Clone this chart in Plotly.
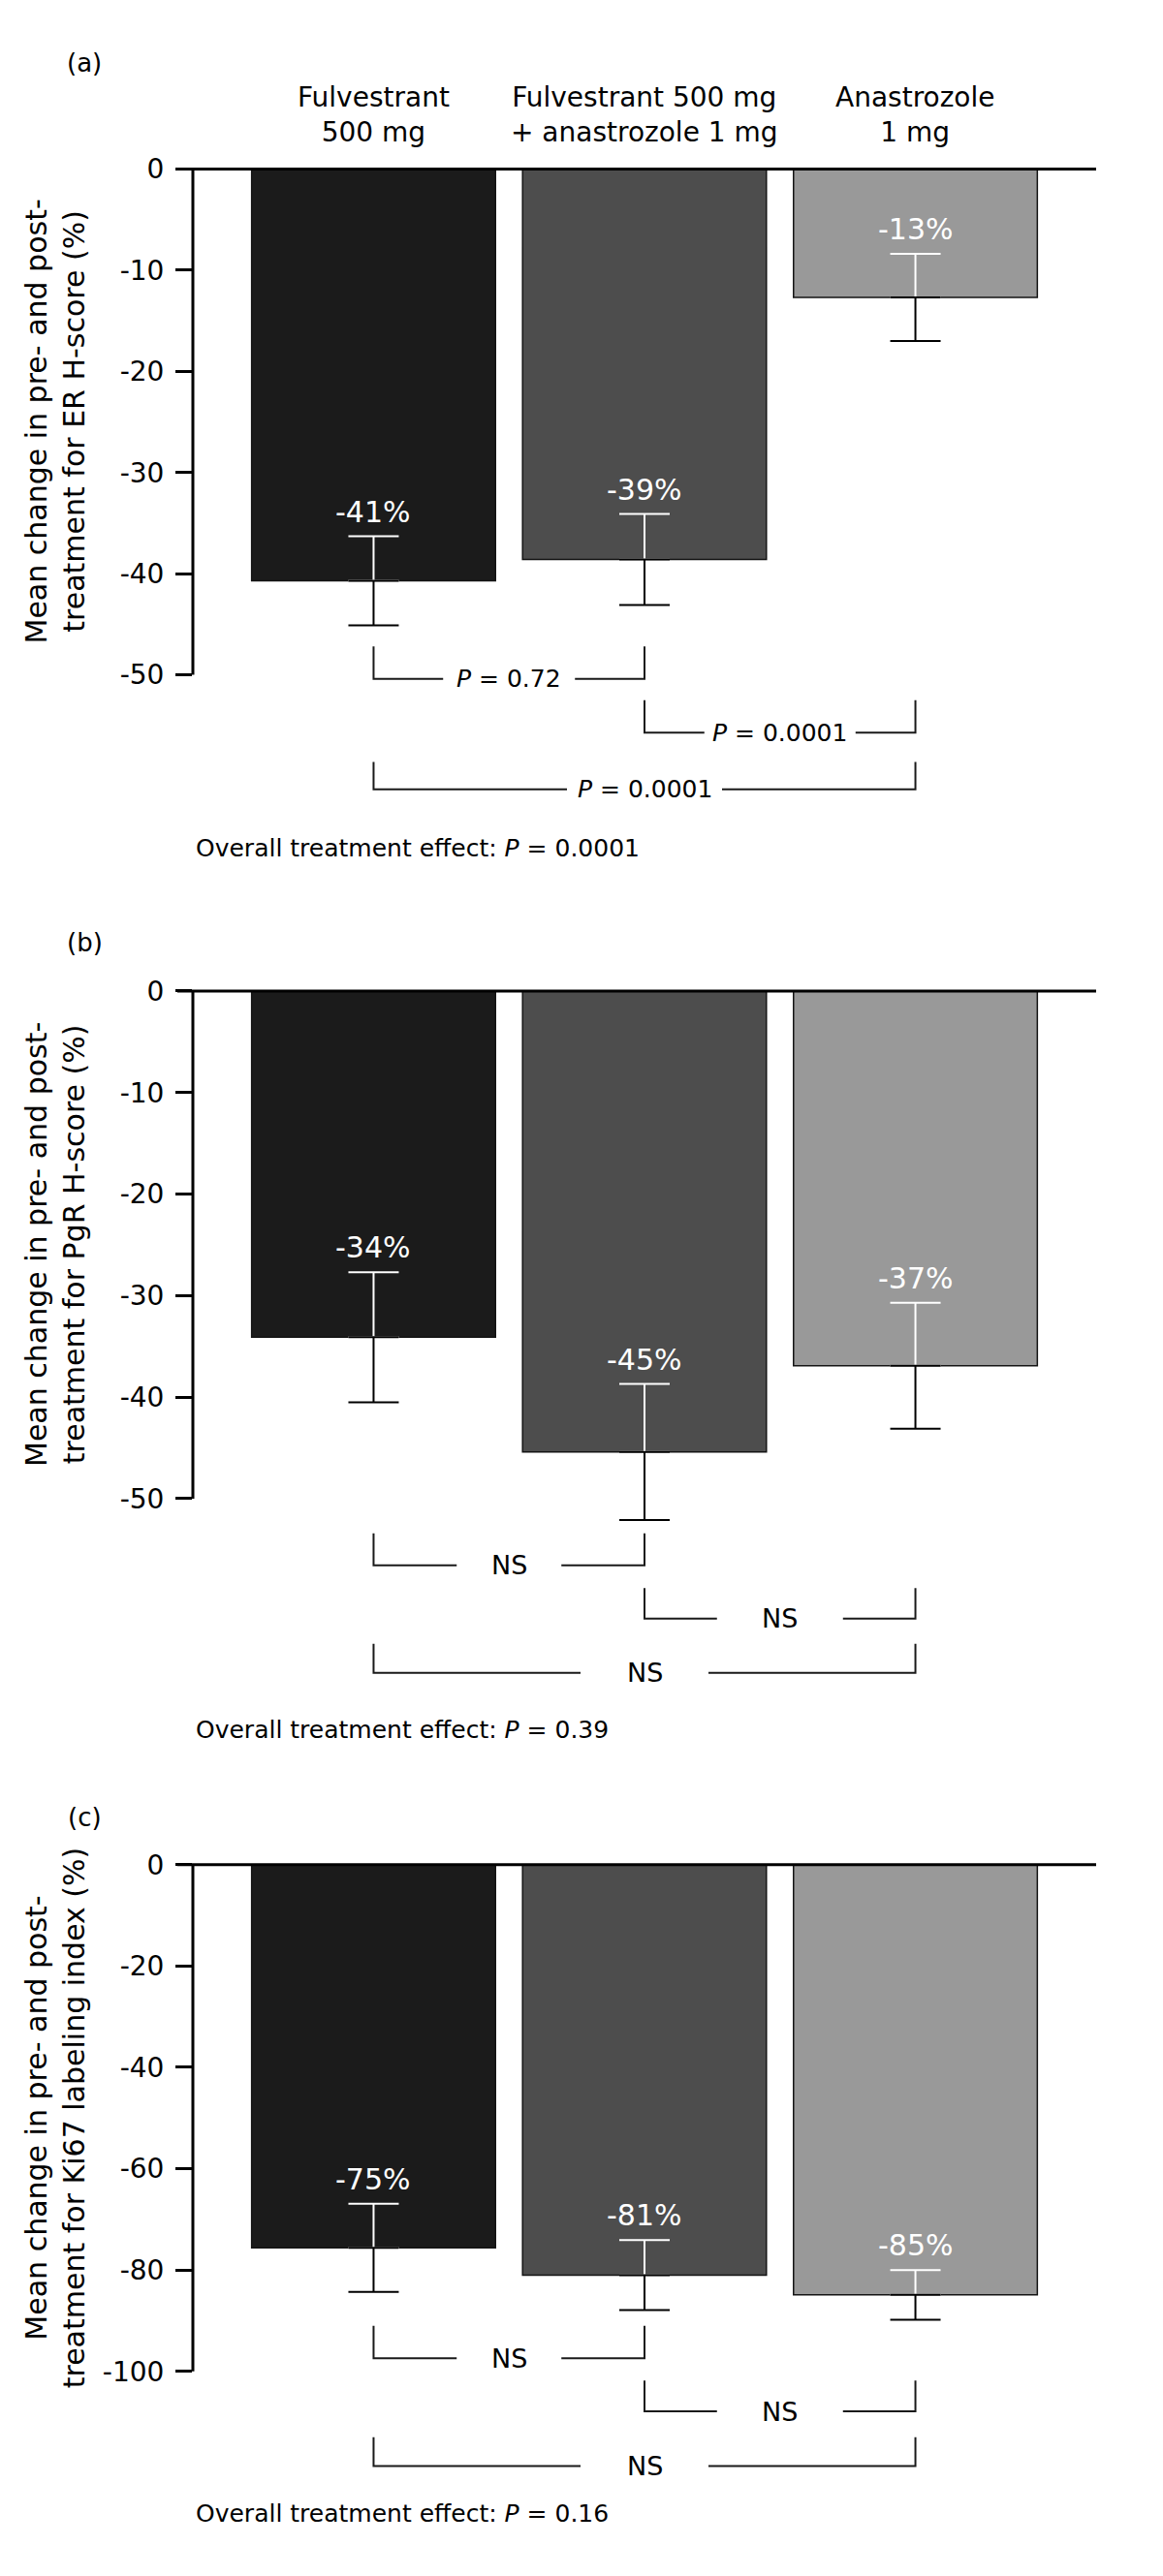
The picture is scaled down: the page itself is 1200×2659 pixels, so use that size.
import plotly.graph_objects as go

# ---------------- data ----------------
CATEGORIES = ["Fulvestrant<br>500 mg", "Fulvestrant 500 mg<br>+ anastrozole 1 mg", "Anastrozole<br>1 mg"]
BAR_COLORS = ["#1b1b1b", "#4d4d4d", "#999999"]

ER_MEAN = [-40.7, -38.6, -12.7]
ER_ERR = [4.4, 4.5, 4.3]
ER_LABELS = ["-41%", "-39%", "-13%"]
ER_PTEXT = ["<i>P</i> = 0.72", "<i>P</i> = 0.0001", "<i>P</i> = 0.0001"]
ER_OVERALL = "0.0001"
ER_TICKS = [0, -10, -20, -30, -40, -50]

PGR_MEAN = [-34.1, -45.4, -36.9]
PGR_ERR = [6.4, 6.7, 6.2]
PGR_LABELS = ["-34%", "-45%", "-37%"]
PGR_PTEXT = ["NS", "NS", "NS"]
PGR_OVERALL = "0.39"
PGR_TICKS = [0, -10, -20, -30, -40, -50]

KI_MEAN = [-75.6, -81.0, -84.9]
KI_ERR = [8.7, 6.9, 4.9]
KI_LABELS = ["-75%", "-81%", "-85%"]
KI_PTEXT = ["NS", "NS", "NS"]
KI_OVERALL = "0.16"
KI_TICKS = [0, -20, -40, -60, -80, -100]

COMPARISONS = [(0, 1), (1, 2), (0, 2)]

# ---------------- layout geometry ----------------
W, H = 1200, 2659
FONT = "DejaVu Sans"
X_LEFT_PX, X_RIGHT_PX = 199, 1131
X_RANGE = [-0.667, 2.667]
PX_PER_X = (X_RIGHT_PX - X_LEFT_PX) / (X_RANGE[1] - X_RANGE[0])

panels = [
    dict(letter="(a)", mean=ER_MEAN, err=ER_ERR, labels=ER_LABELS, ptext=ER_PTEXT,
         overall=ER_OVERALL, ticks=ER_TICKS,
         ytitle="Mean change in pre- and post-<br>treatment for ER H-score (%)",
         zero_px=165.0, ppu=10.484, top=0.6, ymin=-70,
         brackets=[(-47.2, -50.4), (-52.5, -55.7), (-58.6, -61.3)],
         gaps=[68, 78, 80], overall_y=-67.1, letter_px=55, header=True),
    dict(letter="(b)", mean=PGR_MEAN, err=PGR_ERR, labels=PGR_LABELS, ptext=PGR_PTEXT,
         overall=PGR_OVERALL, ticks=PGR_TICKS,
         ytitle="Mean change in pre- and post-<br>treatment for PgR H-score (%)",
         zero_px=1016.8, ppu=10.52, top=0.6, ymin=-76,
         brackets=[(-53.4, -56.55), (-58.8, -61.8), (-64.3, -67.15)],
         gaps=[54, 65, 66], overall_y=-72.8, letter_px=967, header=False),
    dict(letter="(c)", mean=KI_MEAN, err=KI_ERR, labels=KI_LABELS, ptext=KI_PTEXT,
         overall=KI_OVERALL, ticks=KI_TICKS,
         ytitle="Mean change in pre- and post-<br>treatment for Ki67 labeling index (%)",
         zero_px=1922.0, ppu=5.25, top=1.2, ymin=-132,
         brackets=[(-91.0, -97.4), (-101.8, -107.9), (-113.0, -118.7)],
         gaps=[54, 65, 66], overall_y=-128.1, letter_px=1873, header=False),
]

fig = go.Figure()
shapes = []
annotations = []
layout_axes = {}
xs = list(range(len(CATEGORIES)))

for k, p in enumerate(panels):
    n = "" if k == 0 else str(k + 1)
    xref, yref = "x" + n, "y" + n
    # traces
    fig.add_trace(go.Bar(x=xs, y=p["mean"], width=0.9,
                         marker=dict(color=BAR_COLORS, line=dict(color="#141414", width=1.5)),
                         xaxis=xref, yaxis=yref, showlegend=False, hoverinfo="skip"))
    zeros = [0 for _ in xs]
    fig.add_trace(go.Scatter(x=xs, y=p["mean"], mode="markers", marker=dict(size=2, opacity=0),
                             error_y=dict(type="data", symmetric=False, array=p["err"], arrayminus=zeros,
                                          color="white", thickness=2, width=26),
                             xaxis=xref, yaxis=yref, showlegend=False, hoverinfo="skip"))
    fig.add_trace(go.Scatter(x=xs, y=p["mean"], mode="markers", marker=dict(size=2, opacity=0),
                             error_y=dict(type="data", symmetric=False, array=zeros, arrayminus=p["err"],
                                          color="black", thickness=2, width=26),
                             xaxis=xref, yaxis=yref, showlegend=False, hoverinfo="skip"))
    # axes
    top_px = p["zero_px"] - p["top"] * p["ppu"]
    bot_px = p["zero_px"] - p["ymin"] * p["ppu"]
    layout_axes["xaxis" + n] = dict(domain=[X_LEFT_PX / W, X_RIGHT_PX / W], range=X_RANGE,
                                    visible=False, anchor=yref, fixedrange=True)
    layout_axes["yaxis" + n] = dict(domain=[1 - bot_px / H, 1 - top_px / H], range=[p["ymin"], p["top"]],
                                    anchor=xref, showline=False, showgrid=False, zeroline=False,
                                    tickmode="array", tickvals=p["ticks"], ticktext=[str(t) for t in p["ticks"]],
                                    ticks="outside", ticklen=17, tickwidth=3, tickcolor="black",
                                    ticklabelstandoff=6,
                                    tickfont=dict(family=FONT, size=28, color="black"), fixedrange=True)
    axis_min = min(p["ticks"])
    # y axis line and zero line
    shapes.append(dict(type="line", xref=xref + " domain", yref=yref, x0=0, x1=0, y0=0, y1=axis_min,
                       line=dict(color="black", width=3), layer="above"))
    shapes.append(dict(type="line", xref=xref + " domain", yref=yref, x0=-16 / (X_RIGHT_PX - X_LEFT_PX), x1=1,
                       y0=0, y1=0, line=dict(color="black", width=3), layer="above"))
    # value labels
    for i in xs:
        annotations.append(dict(x=i, y=p["mean"][i] + p["err"][i], xref=xref, yref=yref, text=p["labels"][i],
                                showarrow=False, yanchor="bottom", yshift=6,
                                font=dict(family=FONT, size=30, color="white")))
    # header
    if p["header"]:
        for i in xs:
            annotations.append(dict(x=i, y=0, xref=xref, yref=yref, text=CATEGORIES[i], showarrow=False,
                                    yanchor="bottom", yshift=19,
                                    font=dict(family=FONT, size=28, color="black")))
    # brackets
    for b, (i, j) in enumerate(COMPARISONS):
        ytop, ybot = p["brackets"][b]
        mid = (i + j) / 2
        g = p["gaps"][b] / PX_PER_X
        shapes.append(dict(type="path", xref=xref, yref=yref,
                           path=f"M {i},{ytop} L {i},{ybot} L {mid - g},{ybot}",
                           line=dict(color="#1a1a1a", width=2), layer="above"))
        shapes.append(dict(type="path", xref=xref, yref=yref,
                           path=f"M {mid + g},{ybot} L {j},{ybot} L {j},{ytop}",
                           line=dict(color="#1a1a1a", width=2), layer="above"))
        is_ns = p["ptext"][b] == "NS"
        annotations.append(dict(x=mid, y=ybot, xref=xref, yref=yref, text=p["ptext"][b], showarrow=False,
                                yanchor="middle", font=dict(family=FONT, size=27 if is_ns else 25, color="black")))
    # overall
    annotations.append(dict(x=200 / W, y=p["overall_y"], xref="paper", yref=yref, xanchor="left",
                            text="Overall treatment effect: <i>P</i> = " + p["overall"], showarrow=False,
                            yanchor="middle", font=dict(family=FONT, size=25, color="black")))
    # y title
    annotations.append(dict(x=57 / W, y=axis_min / 2, xref="paper", yref=yref, text=p["ytitle"],
                            textangle=-90, showarrow=False, xanchor="center", yanchor="middle",
                            font=dict(family=FONT, size=30, color="black")))
    # panel letter
    annotations.append(dict(x=87 / W, y=1 - p["letter_px"] / H, xref="paper", yref="paper", text=p["letter"],
                            showarrow=False, xanchor="center", yanchor="middle",
                            font=dict(family=FONT, size=26, color="black")))

fig.update_layout(width=W, height=H, margin=dict(l=0, r=0, t=0, b=0),
                  paper_bgcolor="white", plot_bgcolor="white", showlegend=False,
                  shapes=shapes, annotations=annotations, **layout_axes)

fig.write_html("out.html", config={"displayModeBar": False},
               post_script="document.body.style.margin='0px';")
